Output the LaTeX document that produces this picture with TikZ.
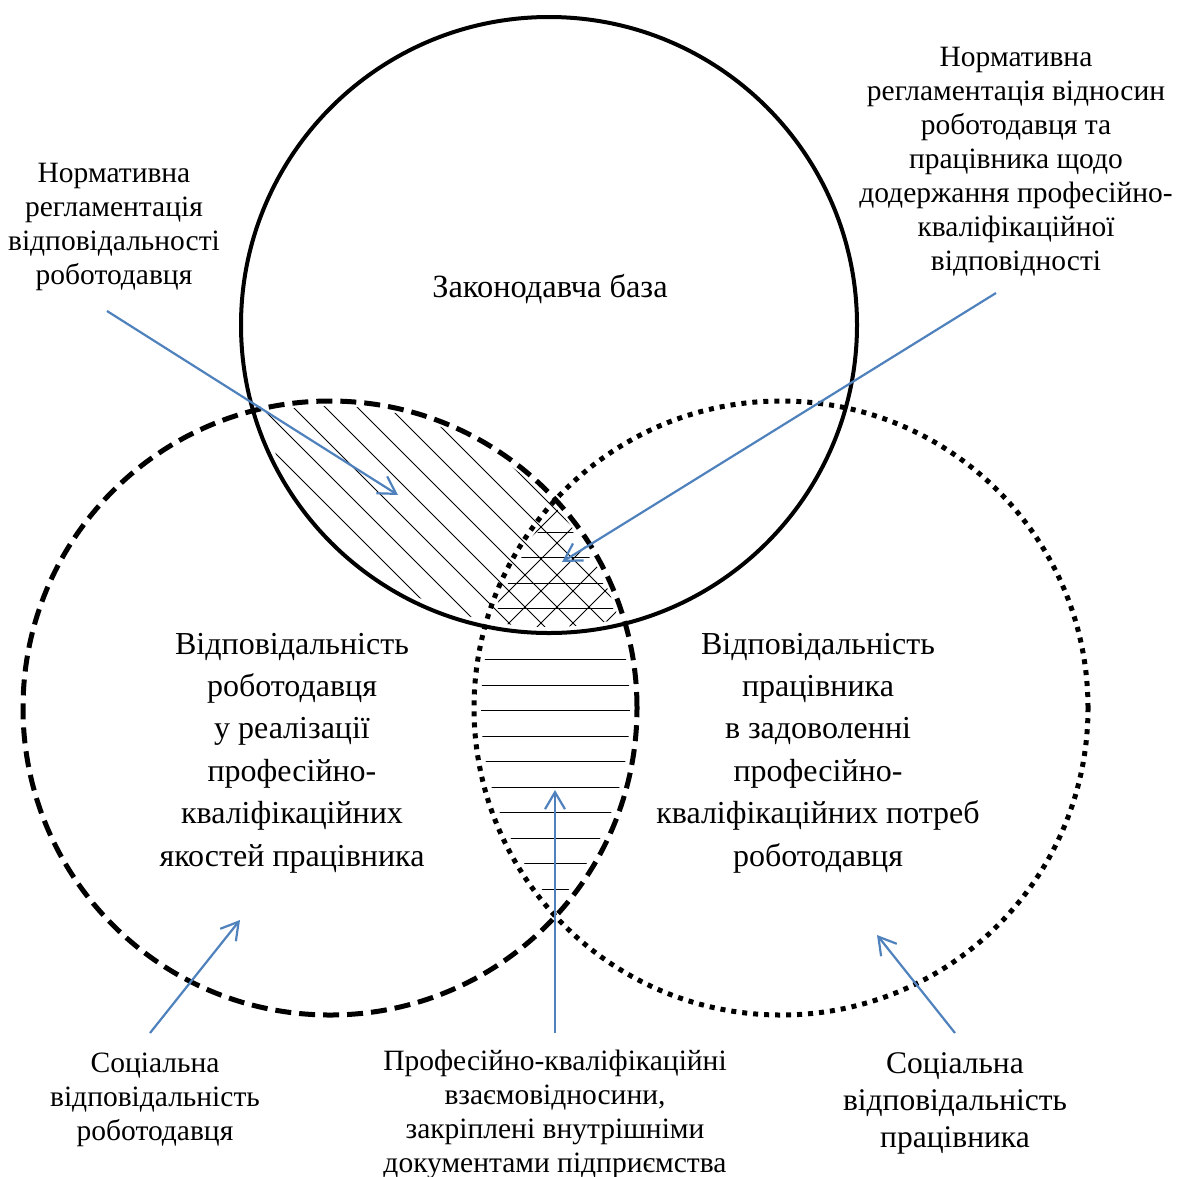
\documentclass[tikz,border=0pt]{standalone}
\usepackage{fontspec}
\setmainfont{Liberation Serif}
\usetikzlibrary{arrows.meta}
\definecolor{arrowblue}{RGB}{79,129,189}
\tikzset{
  topcirc/.style={line width=4pt},
  dashcirc/.style={line width=5pt, dash pattern=on 16pt off 8pt},
  dotcirc/.style={line width=5pt, dash pattern=on 5pt off 6pt},
  hatch/.style={line width=1pt},
  ptr/.style={draw=arrowblue, line width=2.2pt, -{Straight Barb[length=17pt,width=20pt]}},
  lbl/.style={align=center, inner sep=0pt, anchor=base, font=\fontsize{29.5pt}{34pt}\selectfont},
  biglbl/.style={lbl, font=\fontsize{32pt}{42.4pt}\selectfont},
  brlbl/.style={lbl, font=\fontsize{31.5pt}{37pt}\selectfont}
}
\begin{document}
\begin{tikzpicture}[x=1pt,y=-1pt]
\useasboundingbox (0,0) rectangle (1177,1176);
% hatching: diagonal in top & left
\begin{scope}
  \clip (549,325) circle (302pt);
  \clip (330,708) circle (302pt);
  \foreach \c in {-402,-370,...,240} \draw[hatch] (\c+250,250) -- (\c+700,700);
\end{scope}
% hatching: other diagonal in top & left & right
\begin{scope}
  \clip (549,325) circle (302pt);
  \clip (330,708) circle (302pt);
  \clip (781,708) circle (302pt);
  \foreach \d in {972,1004,...,1300} \draw[hatch] (\d-300,300) -- (\d-700,700);
\end{scope}
% hatching: horizontal in left & right
\begin{scope}
  \clip (330,708) circle (300pt);
  \clip (781,708) circle (300pt);
  \foreach \y in {532,557,583,608,659,685,710,736,761,787,812,838,863,889} \draw[hatch] (400,\y) -- (700,\y);
\end{scope}
% circles
\draw[dotcirc] (781,708) circle (307pt);
\draw[dashcirc] (330,708) circle (307pt);
\draw[topcirc] (549,325) circle (308pt);
% labels (anchor base = baseline of the last line)
\node[lbl] (tl) at (114,284) {Нормативна\\регламентація\\відповідальності\\роботодавця};
\node[lbl] (tr) at (1016,270) {Нормативна\\регламентація відносин\\роботодавця та\\працівника щодо\\додержання професійно-\\кваліфікаційної\\відповідності};
\node[lbl, font=\fontsize{32.4pt}{38pt}\selectfont] (base) at (550,297) {Законодавча база};
\node[biglbl] (ml) at (292,866) {Відповідальність\\роботодавця\\у реалізації\\професійно-\\кваліфікаційних\\якостей працівника};
\node[biglbl] (mr) at (818,866) {Відповідальність\\працівника\\в задоволенні\\професійно-\\кваліфікаційних потреб\\роботодавця};
\node[lbl] (bl) at (155,1140) {Соціальна\\відповідальність\\роботодавця};
\node[lbl] (bm) at (555,1172) {Професійно-кваліфікаційні\\взаємовідносини,\\закріплені внутрішніми\\документами підприємства};
\node[brlbl] (br) at (955,1147) {Соціальна\\відповідальність\\працівника};
% arrows
\coordinate (a1s) at (107,311); \coordinate (a1e) at (398,495);
\coordinate (a2s) at (996,293); \coordinate (a2e) at (562,562);
\coordinate (a3s) at (555,1033); \coordinate (a3e) at (555,790);
\coordinate (a4s) at (150,1033); \coordinate (a4e) at (240,920);
\coordinate (a5s) at (955,1033); \coordinate (a5e) at (877,935);
\draw[ptr] (a1s) -- (a1e);
\draw[ptr] (a2s) -- (a2e);
\draw[ptr] (a3s) -- (a3e);
\draw[ptr] (a4s) -- (a4e);
\draw[ptr] (a5s) -- (a5e);
\end{tikzpicture}
\end{document}
